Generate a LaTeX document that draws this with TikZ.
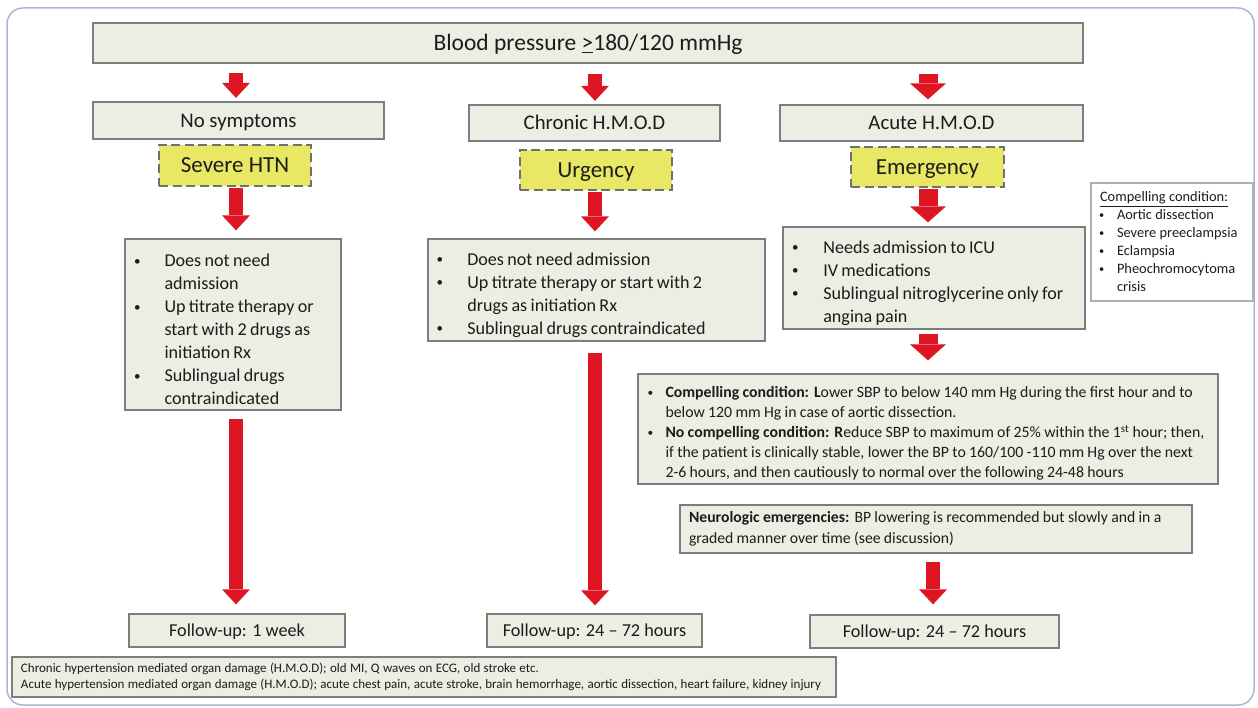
\documentclass[tikz,border=0pt]{standalone}
\usepackage{fontspec}
\usepackage{graphicx}
\setmainfont{Carlito}
\usetikzlibrary{arrows.meta}

\definecolor{boxfill}{RGB}{235,238,226}
\definecolor{boxline}{RGB}{125,125,125}
\definecolor{hlfill}{RGB}{232,232,100}
\definecolor{dashline}{RGB}{112,112,112}
\definecolor{arrowred}{RGB}{222,22,36}
\definecolor{frameline}{RGB}{178,178,212}
\definecolor{noteline}{RGB}{175,175,175}
\definecolor{txt}{RGB}{28,28,28}

% bullet lists with a hanging indent
\newlength\bulin
\newlength\txtin
\newcommand\smallbullet{\raisebox{0.08em}{\scalebox{0.72}{\textbullet}}}
\newcommand\bitem[1]{\par\noindent\hangindent=\txtin\hangafter=1\makebox[\txtin][l]{\hspace*{\bulin}\smallbullet}#1}
\newcommand\listsetup[4]{\fontsize{#1}{#2}\selectfont\setlength\bulin{#3}\setlength\txtin{#4}%
  \rightskip=-30pt plus 1fil\hyphenpenalty=10000\exhyphenpenalty=10000\relax}
\newcommand\plainsetup[3]{\fontsize{#1}{#2}\selectfont\leftskip=#3\rightskip=-30pt plus 1fil%
  \hyphenpenalty=10000\exhyphenpenalty=10000\relax\noindent}

% single-line labels are centred on their capital height
\tikzset{
  box/.style={draw=boxline, fill=boxfill, line width=1.3pt, inner sep=0pt, text=txt},
  rowlabel/.style={box, text height=13.4pt, text depth=0pt, font=\fontsize{20.8pt}{25pt}\selectfont},
  fulabel/.style={box, text height=11.7pt, text depth=0pt, font=\fontsize{18.2pt}{22pt}\selectfont},
  hlbox/.style={draw=dashline, fill=hlfill, line width=2.4pt, dash pattern=on 9pt off 4.5pt,
    inner sep=0pt, text=txt, text height=14.8pt, text depth=0pt, font=\fontsize{23pt}{28pt}\selectfont},
  redarrow/.style={draw=arrowred, line width=14pt, line cap=butt,
    -{Triangle[width=28pt,length=15pt,line width=0pt]}},
  widearrow/.style={draw=arrowred, line width=19pt, line cap=butt,
    -{Triangle[width=36pt,length=16pt,line width=0pt]}},
}

\begin{document}
\begin{tikzpicture}[x=1pt, y=-1pt]
\useasboundingbox (0,0) rectangle (1258,708);

% outer frame
\draw[frameline, line width=1.5pt, rounded corners=16pt] (7,8) rectangle (1254,705);

% column axes for the arrows
\coordinate (c1) at (236,0);
\coordinate (c2) at (595,0);
\coordinate (c3) at (928,0);
\coordinate (c4) at (933,0);

% top level
\node[box, text height=15.1pt, text depth=0pt, minimum width=990pt, minimum height=40pt,
  font=\fontsize{23.5pt}{28pt}\selectfont]
  (bp) at (588,43) {Blood pressure \underline{>}180/120 mmHg};

% three branches
\node[rowlabel, minimum width=291pt, minimum height=37pt] (nosym) at (238.5,120.5) {No symptoms};
\node[rowlabel, minimum width=251pt, minimum height=36pt] (chronic) at (594.5,123) {Chronic H.M.O.D};
\node[rowlabel, minimum width=303pt, minimum height=36pt] (acute) at (931.5,123) {Acute H.M.O.D};

\node[hlbox, minimum width=152pt, minimum height=41pt] (severe) at (235,165.5) {Severe HTN};
\node[hlbox, minimum width=152pt, minimum height=40pt] (urgency) at (596,170) {Urgency};
\node[hlbox, minimum width=153pt, minimum height=40pt] (emerg) at (927.5,167) {Emergency};

% management boxes
\node[box, text width=216pt, minimum height=171pt] (nsbox) at (233,324.5) {%
  \listsetup{18.1pt}{23pt}{9pt}{39.5pt}%
  \bitem{Does not need\newline admission}%
  \bitem{Up titrate therapy or\newline start with 2 drugs as\newline initiation Rx}%
  \bitem{Sublingual drugs\newline contraindicated}\par};

\node[box, text width=337pt, minimum height=102pt] (chbox) at (596.5,290) {%
  \listsetup{18.1pt}{23pt}{8.7pt}{39.3pt}%
  \bitem{Does not need admission}%
  \bitem{Up titrate therapy or start with 2\newline drugs as initiation Rx}%
  \bitem{Sublingual drugs contraindicated}\par};

\node[box, text width=302pt, minimum height=102pt] (acbox) at (934,278) {%
  \listsetup{18.1pt}{23pt}{9.2pt}{40.3pt}%
  \bitem{Needs admission to ICU}%
  \bitem{IV medications}%
  \bitem{Sublingual nitroglycerine only for\newline angina pain}\par};

\node[draw=noteline, fill=white, line width=1.1pt, inner sep=0pt, text=txt,
  text width=162pt, minimum height=118pt] (ccbox) at (1172,242) {%
  \listsetup{14.4pt}{18pt}{8pt}{26pt}%
  \noindent\hspace*{9pt}\underline{Compelling condition:}%
  \bitem{Aortic dissection}%
  \bitem{Severe preeclampsia}%
  \bitem{Eclampsia}%
  \bitem{Pheochromocytoma\newline crisis}\par};

\node[box, text width=580pt, minimum height=110pt] (mgmt) at (928,429) {%
  \listsetup{15.8pt}{19.8pt}{9.5pt}{27.5pt}%
  \bitem{\textbf{Compelling condition: L}ower SBP to below 140 mm Hg during the first hour and to\newline
    below 120 mm Hg in case of aortic dissection.}%
  \bitem{\textbf{No compelling condition: R}educe SBP to maximum of 25\% within the 1\textsuperscript{st} hour; then,\newline
    if the patient is clinically stable, lower the BP to 160/100 -110 mm Hg over the next\newline
    2-6 hours, and then cautiously to normal over the following 24-48 hours}\par};

\node[box, text width=512pt, minimum height=48pt] (neuro) at (936,529) {%
  \plainsetup{15.7pt}{21pt}{9pt}%
  \textbf{Neurologic emergencies:} BP lowering is recommended but slowly and in a\newline
  graded manner over time (see discussion)\par};

% follow-up
\node[fulabel, minimum width=216pt, minimum height=33pt] (fu1) at (237,630.5) {Follow-up: 1 week};
\node[fulabel, minimum width=215pt, minimum height=33pt] (fu2) at (594.5,630.5) {Follow-up: 24 -- 72 hours};
\node[fulabel, minimum width=249pt, minimum height=33pt] (fu3) at (934.5,631.5) {Follow-up: 24 -- 72 hours};

% footnote
\node[box, text width=824pt, minimum height=40pt] (note) at (424,677) {%
  \plainsetup{13pt}{16.5pt}{9pt}%
  Chronic hypertension mediated organ damage (H.M.O.D); old MI, Q waves on ECG, old stroke etc.\newline
  Acute hypertension mediated organ damage (H.M.O.D); acute chest pain, acute stroke, brain hemorrhage, aortic dissection, heart failure, kidney injury\par};

% arrows
\draw[redarrow, shorten <=9pt, shorten >=3.5pt] (c1 |- bp.south) -- (c1 |- nosym.north);
\draw[redarrow, shorten <=10pt, shorten >=3.5pt] (c2 |- bp.south) -- (c2 |- chronic.north);
\draw[widearrow, shorten <=10pt, shorten >=5pt] (c3 |- bp.south) -- (c3 |- acute.north);

\draw[redarrow, shorten <=1pt, shorten >=8pt] (c1 |- severe.south) -- (c1 |- nsbox.north);
\draw[redarrow, shorten <=1pt, shorten >=7pt] (c2 |- urgency.south) -- (c2 |- chbox.north);
\draw[widearrow, shorten <=1pt, shorten >=4pt] (c3 |- emerg.south) -- (c3 |- acbox.north);

\draw[redarrow, shorten <=8pt, shorten >=9pt] (c1 |- nsbox.south) -- (c1 |- fu1.north);
\draw[redarrow, shorten <=11pt, shorten >=8pt] (c2 |- chbox.south) -- (c2 |- fu2.north);
\draw[widearrow, shorten <=4pt, shorten >=13pt] (c3 |- acbox.south) -- (c3 |- mgmt.north);
\draw[redarrow, shorten <=8pt, shorten >=10pt] (c4 |- neuro.south) -- (c4 |- fu3.north);
\end{tikzpicture}
\end{document}
